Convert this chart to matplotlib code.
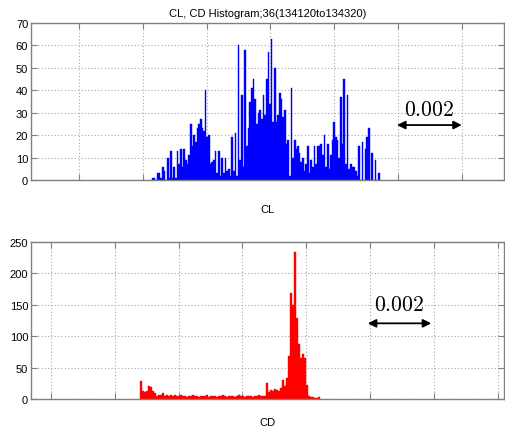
import numpy as np
import matplotlib
matplotlib.use("Agg")
import matplotlib.pyplot as plt

plt.rcParams['font.family'] = ['Liberation Sans', 'DejaVu Sans']
plt.rcParams['mathtext.fontset'] = 'cm'

title = "CL, CD Histogram;36(134120to134320)"

# CL histogram
cl_start = 0.00229
cl_bin = 5.17e-5
cl_counts = [1, 1, 0, 3, 3, 1, 6, 4, 0, 10,
             1, 13, 1, 6, 1, 13, 7, 14, 6, 14,
             9, 7, 11, 25, 15, 20, 17, 23, 25, 27,
             23, 22, 40, 19, 20, 7, 8, 9, 13, 3,
             13, 2, 10, 3, 10, 4, 5, 2, 19, 4,
             21, 2, 60, 9, 38, 6, 58, 15, 23, 35,
             41, 45, 36, 25, 30, 31, 27, 38, 29, 45,
             57, 34, 63, 26, 50, 26, 29, 39, 36,
             28, 31, 16, 18, 2, 41, 10, 18, 14, 15,
             12, 8, 10, 4, 7, 15, 3, 9, 6, 15,
             7, 15, 15, 16, 11, 20, 6, 16, 5, 11,
             18, 26, 19, 18, 10, 37, 16, 45, 7, 38,
             5, 7, 6, 6, 4, 2, 15, 0, 17, 0,
             14, 19, 23, 0, 12, 0, 9, 0, 3]

# CD histogram
cd_start = 0.00279
cd_bin = 6.27e-5
cd_counts = [29, 13, 11, 12, 21, 19, 12, 10, 5, 7, 7, 10, 5, 7, 5, 6, 4, 7,
             5, 4, 6, 4, 5, 3, 5, 4, 6, 5, 4, 3, 5, 4, 4, 6, 3, 4, 5, 4, 3,
             5, 4, 6, 4, 3, 5, 4, 5, 3, 4, 6, 4, 5, 3, 4, 5, 4, 3, 5, 4, 6,
             5, 4, 5,
             25, 11, 14, 12, 16, 15, 13, 17, 30, 21, 34, 69, 168, 150, 234,
             129, 88, 66, 72, 66, 23, 4, 3, 3, 2, 2, 3]

scale_label = "$0.002$"
cl_ticks = [0.0, 0.002, 0.004, 0.006, 0.008, 0.010, 0.012]
cd_ticks = [0.0, 0.002, 0.004, 0.006, 0.008, 0.010, 0.012, 0.014]

W, H = 506, 435
fig = plt.figure(figsize=(W / 100, H / 100), dpi=100)

def px_axes(l, t, r, b):
    return fig.add_axes([l / W, 1 - b / H, (r - l) / W, (b - t) / H])

spine_col = '#808080'

def style(ax):
    for s in ax.spines.values():
        s.set_color(spine_col)
        s.set_linewidth(1.0)
    ax.tick_params(direction='in', top=True, right=True, length=4,
                   color=spine_col, labelsize=8, pad=2, labelcolor='black')
    ax.grid(True, color='#a8a8a8', linestyle=(0, (1, 2)), linewidth=0.8)
    ax.set_axisbelow(True)
    ax.set_xticklabels([])

# Top axes
ax1 = px_axes(31, 24, 504, 181)
x1 = cl_start + cl_bin * np.arange(len(cl_counts))
ax1.bar(x1, cl_counts, width=cl_bin, align='edge', color='#0000ff',
        edgecolor='#0000ff', linewidth=0.3)
ax1.set_xlim(-0.001505, 0.013323)
ax1.set_ylim(0, 70)
ax1.set_xticks(cl_ticks)
ax1.set_yticks(range(0, 71, 10))
style(ax1)
ax1.set_title(title, fontsize=8, pad=5)
ax1.set_xlabel("CL", fontsize=8, labelpad=15)
ax1.annotate('', xy=(0.00997, 24.5), xytext=(0.01200, 24.5),
             arrowprops=dict(arrowstyle='<|-|>', color='black', lw=1.3,
                             mutation_scale=12, shrinkA=0, shrinkB=0))
ax1.text(0.01098, 31.5, scale_label, fontsize=15.5, ha='center', va='center')

# Bottom axes
ax2 = px_axes(31, 243, 504, 400)
x2 = cd_start + cd_bin * np.arange(len(cd_counts))
ax2.bar(x2, cd_counts, width=cd_bin, align='edge', color='#ff0000',
        edgecolor='#ff0000', linewidth=0.3)
ax2.set_xlim(-0.000627, 0.0142)
ax2.set_ylim(0, 250)
ax2.set_xticks(cd_ticks)
ax2.set_yticks(range(0, 251, 50))
style(ax2)
ax2.set_xlabel("CD", fontsize=8, labelpad=11)
ax2.annotate('', xy=(0.00993, 120.5), xytext=(0.01192, 120.5),
             arrowprops=dict(arrowstyle='<|-|>', color='black', lw=1.3,
                             mutation_scale=12, shrinkA=0, shrinkB=0))
ax2.text(0.01090, 150, scale_label, fontsize=15.5, ha='center', va='center')

fig.savefig("out.png", dpi=100)
